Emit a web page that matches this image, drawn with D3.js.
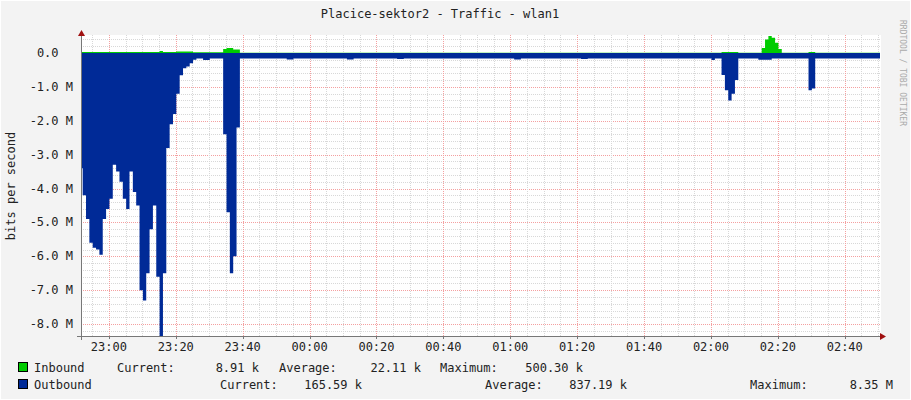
<!DOCTYPE html>
<html><head><meta charset="utf-8">
<script src="https://cdn.jsdelivr.net/npm/d3@7"></script>
<style>body{margin:0;background:#f3f3f3}text{font-family:"DejaVu Sans Mono",monospace;white-space:pre}</style>
</head><body><div id="chart"></div>
<script>
// one sample per minute, starting 22:51:10; step lists are [minute, value in M]
var outboundSteps = [[0,-3.4],[1,-4.2],[2,-4.9],[3,-5.6],[4,-5.75],[5,-5.8],[6,-5.95],[7,-4.9],[8,-4.6],[9,-4.3],
  [10,-3.3],[11,-3.5],[12,-3.8],[13,-4.3],[14,-4.6],[15,-3.5],[16,-4.1],[17,-4.5],[18,-7.0],[19,-7.3],
  [20,-6.5],[21,-5.2],[22,-4.5],[23,-6.6],[24,-8.35],[25,-6.5],[26,-2.8],[27,-2.1],[28,-1.8],[29,-1.2],
  [30,-0.66],[31,-0.45],[32,-0.4],[33,-0.3],[34,-0.2],[35,-0.16],[37,-0.21],[39,-0.16],
  [43,-2.4],[44,-4.7],[45,-6.5],[46,-6.0],[47,-2.2],[48,-0.16],[62,-0.19],[64,-0.16],[80,-0.19],[82,-0.16],
  [95,-0.18],[97,-0.16],[130,-0.19],[132,-0.16],[150,-0.18],[152,-0.16],[189,-0.21],[190,-0.16],
  [192,-0.65],[193,-1.1],[194,-1.4],[195,-1.2],[196,-0.8],[197,-0.16],[203,-0.2],[207,-0.16],
  [218,-1.1],[219,-1.05],[220,-0.16],[240,0]];
var inboundSteps = [[0,0.03],[24,0.06],[25,0.03],[29,0.04],[34,0.02],[43,0.12],[44,0.15],[46,0.1],[48,0.01],
  [192,0.03],[197,0.01],[204,0.15],[205,0.4],[206,0.5],[207,0.45],[208,0.3],[209,0.12],[210,0.01],
  [218,0.03],[220,0.01],[240,0]];
var yTicks = [0,-1,-2,-3,-4,-5,-6,-7,-8];
var legendIn = ["8.91 k","22.11 k","500.30 k"];
var legendOut = ["165.59 k","837.19 k","8.35 M"];

var t0 = new Date(2020,0,1,22,51,10);
function expand(steps){
  var out = [];
  for (var s = 0; s < steps.length - 1; s++)
    for (var m = steps[s][0]; m < steps[s+1][0]; m++)
      out.push({t: d3.timeMinute.offset(t0, m), v: steps[s][1]*1e6});
  out.push({t: d3.timeMinute.offset(t0, 240), v: out[out.length-1].v});
  return out;
}
var outbound = expand(outboundSteps), inbound = expand(inboundSteps);

var svg = d3.select("#chart").append("svg").attr("width",911).attr("height",400);
svg.append("rect").attr("x",0.5).attr("y",0.5).attr("width",910).attr("height",399)
  .attr("fill","#f3f3f3").attr("stroke","#fff");

var x = d3.scaleTime().domain([new Date(2020,0,1,22,51,40), new Date(2020,0,2,2,50,50)]).range([81,881]);
var y = d3.scaleLinear().domain([-8.35e6,0.53e6]).range([336,35]);

svg.append("rect").attr("x",81).attr("y",35).attr("width",800).attr("height",301).attr("fill","#fff");
svg.append("clipPath").attr("id","plot").append("rect").attr("x",81).attr("y",30).attr("width",799).attr("height",306);

// grid
var g = svg.append("g");
g.selectAll(".hmin").data(d3.range(-41,3).map(function(d){return d*0.2e6;})).enter().append("line")
  .attr("x1",81).attr("x2",881).attr("y1",function(d){return Math.round(y(d))+0.5;}).attr("y2",function(d){return Math.round(y(d))+0.5;})
  .attr("stroke",function(d){return Math.abs(d/1e6 - Math.round(d/1e6))<1e-6 ? "#f4a0a0":"#d8d8d8";})
  .attr("stroke-dasharray","1,1");
g.selectAll(".vmin").data(x.ticks(d3.timeMinute.every(5))).enter().append("line")
  .attr("y1",35).attr("y2",336).attr("x1",function(d){return Math.round(x(d))+0.5;}).attr("x2",function(d){return Math.round(x(d))+0.5;})
  .attr("stroke",function(d){return d.getMinutes()%20==0 ? "#f4a0a0":"#d8d8d8";})
  .attr("stroke-dasharray","1,1");

var area = d3.area().curve(d3.curveStepAfter).x(function(d){return x(d.t);}).y0(y(0)).y1(function(d){return y(d.v);});
var pg = svg.append("g").attr("clip-path","url(#plot)");
pg.append("path").datum(inbound).attr("d",area).attr("fill","#00cc00");
pg.append("path").datum(outbound).attr("d",area).attr("fill","#002a97");

// axes
svg.append("line").attr("x1",81.5).attr("x2",81.5).attr("y1",31).attr("y2",340).attr("stroke","#777");
svg.append("line").attr("x1",77).attr("x2",885).attr("y1",336.5).attr("y2",336.5).attr("stroke","#777");
svg.append("path").attr("d","M78,36L81.5,30L85,36Z").attr("fill","#a01010");
svg.append("path").attr("d","M880,333L886,336.5L880,340Z").attr("fill","#a01010");

svg.selectAll(".yl").data(yTicks).enter().append("text")
  .attr("x",73).attr("y",function(d){return y(d*1e6)+4;}).attr("text-anchor","end")
  .attr("font-size",12).attr("fill","#222")
  .text(function(d){return d==0 ? "0.0  " : d.toFixed(1)+" M";});
svg.selectAll(".xl").data(x.ticks(d3.timeMinute.every(20))).enter().append("text")
  .attr("x",function(d){return x(d);}).attr("y",351).attr("text-anchor","middle")
  .attr("font-size",12).attr("fill","#222").text(d3.timeFormat("%H:%M"));
svg.selectAll(".xt").data(x.ticks(d3.timeMinute.every(20))).enter().append("line")
  .attr("x1",function(d){return Math.round(x(d))+0.5;}).attr("x2",function(d){return Math.round(x(d))+0.5;})
  .attr("y1",336).attr("y2",339).attr("stroke","#777");

svg.append("text").attr("x",440).attr("y",18).attr("text-anchor","middle").attr("font-size",12).attr("fill","#222")
  .text("Placice-sektor2 - Traffic - wlan1");
svg.append("text").attr("transform","translate(15,186) rotate(-90)").attr("text-anchor","middle")
  .attr("font-size",12).attr("fill","#222").text("bits per second");
svg.append("text").attr("transform","translate(900,20) rotate(90)").attr("font-size",8).attr("fill","#aaa")
  .text("RRDTOOL / TOBI OETIKER");

// legend
function legRow(yy, col, name, vals, xs){
  svg.append("rect").attr("x",18.5).attr("y",yy-9.5).attr("width",9).attr("height",9).attr("fill",col).attr("stroke","#000");
  svg.append("text").attr("x",34).attr("y",yy).attr("font-size",12).attr("fill","#222").text(name);
  var lab = ["Current:","Average:","Maximum:"];
  for (var i=0;i<3;i++){
    svg.append("text").attr("x",xs[i*2]).attr("y",yy).attr("font-size",12).attr("fill","#222").text(lab[i]);
    svg.append("text").attr("x",xs[i*2+1]).attr("y",yy).attr("font-size",12).attr("fill","#222").attr("text-anchor","end").text(vals[i]);
  }
}
legRow(372,"#00cc00","Inbound",legendIn,[117,259,279,421,440,583]);
legRow(389,"#002a97","Outbound",legendOut,[220,362,485,627,750,893]);
</script></body></html>
